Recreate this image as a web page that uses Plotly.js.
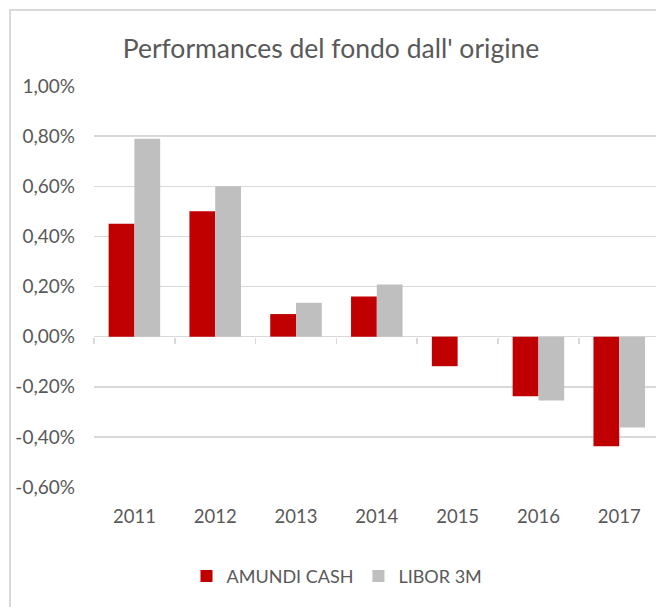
<!DOCTYPE html>
<html>
<head>
<meta charset="utf-8">
<script src="https://cdn.plot.ly/plotly-3.0.1.min.js"></script>
<style>
  html, body { margin: 0; padding: 0; background: #fff; }
  #wrap { position: relative; width: 656px; height: 607px; overflow: hidden; }
  #chart { position: absolute; left: 0; top: 0; width: 656px; height: 607px; }
  #frame { position: absolute; left: 9px; top: 9px; width: 700px; height: 700px;
           border: 2px solid #d9d9d9; box-sizing: border-box; pointer-events: none; }
</style>
</head>
<body>
<div id="wrap">
  <div id="chart"></div>
  <div id="frame"></div>
</div>
<script>
// ---- data (values in %) ----
const years = ['2011', '2012', '2013', '2014', '2015', '2016', '2017'];
const amundiCash = [0.45, 0.50, 0.09, 0.16, -0.118, -0.238, -0.437];
const libor3M = [0.79, 0.60, 0.135, 0.208, 0, -0.255, -0.363];
const yTickVals = [-0.6, -0.4, -0.2, 0, 0.2, 0.4, 0.6, 0.8, 1.0];
const yTickText = ['-0,60%', '-0,40%', '-0,20%', '0,00%', '0,20%', '0,40%', '0,60%', '0,80%', '1,00%'];
const seriesNames = ['AMUNDI CASH', 'LIBOR 3M'];

const FONT = 'Lato, "Open Sans", sans-serif';
const TXT = '#595959';

const traces = [
  { type: 'bar', name: seriesNames[0], x: years, y: amundiCash,
    marker: { color: '#C00000' }, hoverinfo: 'x+y' },
  { type: 'bar', name: seriesNames[1], x: years, y: libor3M,
    marker: { color: '#BFBFBF' }, hoverinfo: 'x+y' },
  // helper trace for the category tick marks on the zero line
  { type: 'scatter', mode: 'none', x: years, y: years.map(() => 0),
    xaxis: 'x2', yaxis: 'y', showlegend: false, hoverinfo: 'skip' }
];

const xRange = [-0.5, 6.455];

const layout = {
  width: 656, height: 607,
  paper_bgcolor: '#ffffff', plot_bgcolor: '#ffffff',
  margin: { l: 94, r: 0, t: 86, b: 119.5, pad: 0 },
  font: { family: FONT, color: TXT, size: 18 },
  title: {
    text: "Performances del fondo dall' origine",
    font: { family: FONT, size: 26.5, color: TXT },
    x: 331 / 656, xref: 'container', xanchor: 'center',
    y: 1 - 49 / 607, yref: 'container', yanchor: 'middle'
  },
  barmode: 'group',
  bargap: 0.362,
  bargroupgap: 0,
  xaxis: {
    type: 'category', range: xRange,
    showgrid: false, zeroline: false, showline: false,
    ticks: '', tickfont: { family: FONT, size: 18.5, color: TXT },
    ticklabelstandoff: 16, fixedrange: true
  },
  xaxis2: {
    type: 'category', overlaying: 'x', matches: 'x', range: xRange,
    anchor: 'free', position: 0.6 / 1.6, side: 'bottom',
    showgrid: false, zeroline: false, showline: false,
    showticklabels: false, ticks: 'outside', ticklen: 6, tickwidth: 1.5,
    tickcolor: '#d9d9d9', tickson: 'boundaries'
  },
  yaxis: {
    range: [-0.6, 1.0],
    tickvals: yTickVals, ticktext: yTickText,
    showgrid: true, gridcolor: '#d9d9d9', gridwidth: 1.5,
    zeroline: true, zerolinecolor: '#d9d9d9', zerolinewidth: 1.5,
    showline: false, ticks: '',
    tickfont: { family: FONT, size: 19, color: TXT },
    ticklabelstandoff: 18, fixedrange: true
  },
  showlegend: true,
  legend: {
    orientation: 'h', x: (337 - 94) / 562, xanchor: 'center',
    y: (487.5 - 577) / 401.5, yanchor: 'middle',
    font: { family: FONT, size: 18, color: TXT },
    traceorder: 'normal', itemclick: false, itemdoubleclick: false
  },
  hovermode: false
};

Plotly.newPlot('chart', traces, layout, { displayModeBar: false, staticPlot: true });
</script>
</body>
</html>
